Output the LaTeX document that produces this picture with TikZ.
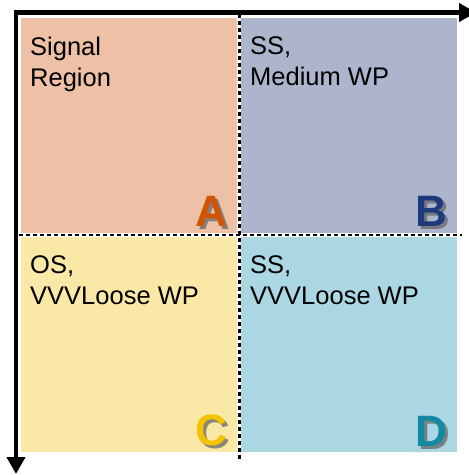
\documentclass[tikz,border=0pt]{standalone}
\usepackage{fontspec}
\setmainfont{Liberation Sans}
\usetikzlibrary{arrows.meta}
\definecolor{fillA}{HTML}{EEC1A6}
\definecolor{fillB}{HTML}{ADB5CC}
\definecolor{fillC}{HTML}{FAE8A6}
\definecolor{fillD}{HTML}{ABD7E3}
\definecolor{letA}{HTML}{D35400}
\definecolor{letB}{HTML}{1F3A7C}
\definecolor{letC}{HTML}{F4C300}
\definecolor{letD}{HTML}{128AA6}
\tikzset{
  x=1pt, y=-1pt,
  quad/.style={draw=none, inner sep=0pt, outer sep=0pt},
  label/.style={anchor=north west, inner sep=0pt, align=left, font=\fontsize{25.5}{31}\selectfont},
  bigletter/.style={anchor=south east, inner sep=0pt, font=\fontsize{44}{44}\selectfont\bfseries},
  shadowletter/.style={bigletter, text=black!60, opacity=0.75},
  axis/.style={line width=4.3pt, line join=miter, {Triangle[length=17pt,width=18pt]}-{Triangle[length=17pt,width=18pt]}},
  divider/.style={line width=2.5pt, dash pattern=on 4pt off 3pt}
}
\begin{document}
\begin{tikzpicture}
\useasboundingbox (0,0) rectangle (469,475);
% quadrants
\fill[fillA] (21,18) rectangle (237,232.5);
\fill[fillB] (241,18) rectangle (457,232.5);
\fill[fillC] (21,237) rectangle (237,452);
\fill[fillD] (241,237) rectangle (457,452);
% dividers
\coordinate (vtop) at (239.3,14);
\coordinate (vbot) at (239.3,460);
\coordinate (hleft) at (19,235);
\coordinate (hright) at (462,235);
\draw[divider] (vtop) -- (vbot);
\draw[divider] (hleft) -- (hright);
% axes
\coordinate (corner) at (16,12.5);
\coordinate (ytip) at (16,474);
\coordinate (xtip) at (476,12.5);
\draw[axis] (ytip) -- (corner) -- (xtip);
% texts
\node[label] (tA) at (30,36.5) {Signal\\Region};
\node[label] (tB) at (250,36.5) {SS,\\Medium WP};
\node[label] (tC) at (30,255) {OS,\\VVVLoose WP};
\node[label] (tD) at (250,255) {SS,\\VVVLoose WP};
% letters
\node[shadowletter] (sA) at (230,229.5) {A};
\node[bigletter, text=letA] (lA) at (227,226.5) {A};
\node[shadowletter] (sB) at (450,229.5) {B};
\node[bigletter, text=letB] (lB) at (447,226.5) {B};
\node[shadowletter] (sC) at (230,449.5) {C};
\node[bigletter, text=letC] (lC) at (227,446.5) {C};
\node[shadowletter] (sD) at (450,449.5) {D};
\node[bigletter, text=letD] (lD) at (447,446.5) {D};
\end{tikzpicture}
\end{document}
